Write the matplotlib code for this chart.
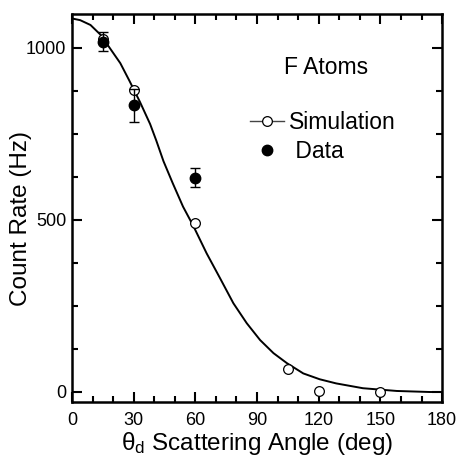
import matplotlib
matplotlib.use("Agg")
import matplotlib.pyplot as plt
from matplotlib.lines import Line2D
from matplotlib.ticker import MultipleLocator

plt.rcParams['font.family'] = ['Liberation Sans', 'DejaVu Sans']
plt.rcParams['mathtext.fontset'] = 'custom'
plt.rcParams['mathtext.rm'] = 'Liberation Sans'
plt.rcParams['mathtext.it'] = 'Liberation Sans'

# Simulation curve
curve_angle = [0, 4, 9, 14, 18.5, 23.5, 28, 33, 38, 41, 44.5, 49, 54, 59,
               65.5, 72, 78.5, 85, 91.5, 98, 104.5, 112.5, 120.5, 128.5,
               141.5, 158, 174, 180]
curve_rate = [1085, 1080, 1066, 1037, 998, 955, 903, 843, 778, 730, 670, 606,
              538, 482, 402, 330, 257, 199, 150, 112, 83, 53, 36, 24,
              10, 2, -1, -1]

# Simulation points (open circles)
sim_angle = [15, 30, 60, 105, 120, 150]
sim_rate = [1025, 877, 490, 66, 3, -1]

# Measured data (filled circles)
data_angle = [15, 30, 60]
data_rate = [1017, 832, 622]
data_err = [28, 47, 28]

fig = plt.figure(figsize=(4.6, 4.57), dpi=100)
ax = fig.add_axes([0.1565, 0.1204, 0.8045, 0.849])

ax.plot(curve_angle, curve_rate, color='black', lw=1.4, zorder=2)
ax.plot(sim_angle, sim_rate, ls='none', marker='o', ms=7, mfc='white',
        mec='black', mew=0.9, zorder=3)
ax.errorbar(data_angle, data_rate, yerr=data_err, fmt='o', ms=7.5,
            color='black', ecolor='black', elinewidth=1.0, capsize=3.5,
            capthick=1.0, zorder=4)

ax.set_xlim(0, 180)
ax.set_ylim(-30, 1098)
ax.xaxis.set_major_locator(MultipleLocator(30))
ax.xaxis.set_minor_locator(MultipleLocator(10))
ax.yaxis.set_major_locator(MultipleLocator(500))
ax.yaxis.set_minor_locator(MultipleLocator(125))

for s in ax.spines.values():
    s.set_linewidth(1.8)
ax.tick_params(which='both', direction='in', top=True, right=True,
               labelsize=13, width=1.5)
ax.tick_params(which='major', length=7)
ax.tick_params(which='minor', length=4.5)
ax.tick_params(axis='x', pad=7)
ax.tick_params(axis='y', pad=4)

ax.set_xlabel(r'$\mathrm{\theta_d}$ Scattering Angle (deg)', fontsize=17.5, labelpad=1)
ax.set_ylabel('Count Rate (Hz)', fontsize=17.5)
ax.yaxis.set_label_coords(-0.108, 0.472)

ax.text(0.686, 0.863, 'F Atoms', transform=ax.transAxes, fontsize=16.5,
        ha='center', va='center')

h1 = Line2D([], [], color='#444444', lw=1.0, marker='o', ms=7, mfc='white',
            mec='black', mew=0.9)
h2 = Line2D([], [], ls='none', marker='o', ms=7.5, color='black')
ax.legend([h1, h2], ['Simulation', ' Data'], loc='center left',
          bbox_to_anchor=(0.481, 0.683), frameon=False, fontsize=16.5,
          handlelength=1.5, handletextpad=0.22, labelspacing=0.25,
          borderpad=0, borderaxespad=0)

fig.savefig('out.png', dpi=100)
